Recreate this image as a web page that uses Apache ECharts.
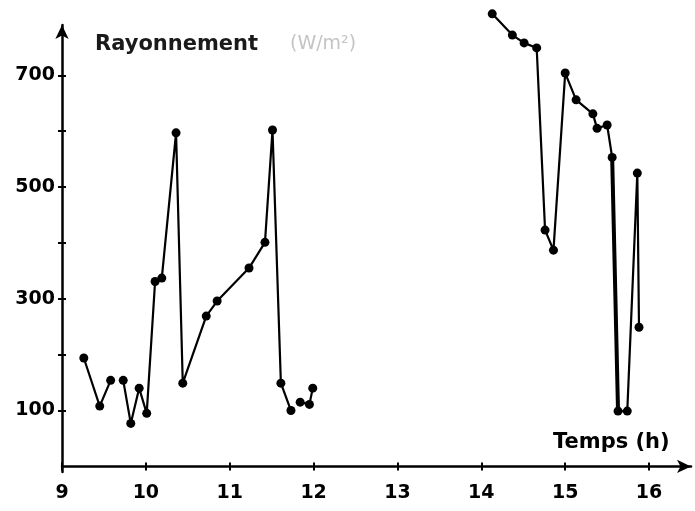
<!DOCTYPE html>
<html>
<head>
<meta charset="utf-8">
<script src="https://cdn.jsdelivr.net/npm/echarts@6/dist/echarts.min.js"></script>
<style>
  html, body { margin: 0; padding: 0; background: #fff; }
  #chart { width: 695px; height: 511px; }
</style>
</head>
<body>
<div id="chart"></div>
<script>
// Solar irradiance through the day (hour of day, W/m²)
const hours = [
  9.26, 9.45, 9.58, 9.73, 9.82, 9.92, 10.01, 10.11, 10.19, 10.36,
  10.44, 10.72, 10.85, 11.23, 11.42, 11.51, 11.61, 11.73, 11.84, 11.95,
  11.99, 14.13, 14.37, 14.51, 14.66, 14.76, 14.86, 15.00, 15.13, 15.33,
  15.38, 15.50, 15.56, 15.63, 15.74, 15.86, 15.88
];
const irradiance = [
  194, 108, 154, 154, 77, 140, 95, 331, 337, 597,
  149, 269, 296, 355, 401, 602, 149, 100, 115, 111,
  140, 810, 772, 758, 749, 423, 387, 704, 656, 631,
  605, 611, 553, 99, 99, 525, 249
];
// indices after which the recorded trace is interrupted
const breaksAfter = [2, 17, 20];
// segment drawn with a heavier stroke (start index, end index)
const heavySegment = [32, 33];

const xTicks = [9, 10, 11, 12, 13, 14, 15, 16];
const yTicks = [100, 200, 300, 400, 500, 600, 700];
const yLabels = [100, 300, 500, 700];

const traceData = [];
hours.forEach((h, i) => {
  traceData.push([h, irradiance[i]]);
  if (breaksAfter.includes(i)) traceData.push([h, '-']);
});
const heavyData = [];
for (let i = heavySegment[0]; i <= heavySegment[1]; i++) heavyData.push([hours[i], irradiance[i]]);

const FONT = 'DejaVu Sans';
const tickStyle = { color: '#000', width: 2 };
const labelStyle = { color: '#000', fontFamily: FONT, fontWeight: 'bold', fontSize: 19 };

const chart = echarts.init(document.getElementById('chart'));
chart.setOption({
  animation: false,
  backgroundColor: '#fff',
  grid: { left: 62, right: 4, top: 25, bottom: 39, containLabel: false },
  xAxis: [
    {
      type: 'value', min: 9, max: 16.5,
      splitLine: { show: false },
      axisLine: { lineStyle: { color: '#000', width: 2.5 }, symbol: ['none', 'arrow'], symbolSize: [10, 14] },
      axisTick: { customValues: xTicks, length: 4, lineStyle: tickStyle },
      axisLabel: Object.assign({ customValues: xTicks, margin: 12 }, labelStyle)
    },
    {
      // inner half of the cross-shaped ticks
      type: 'value', min: 9, max: 16.5, position: 'bottom',
      splitLine: { show: false }, axisLine: { show: false }, axisLabel: { show: false },
      axisTick: { customValues: xTicks, inside: true, length: 4, lineStyle: tickStyle }
    }
  ],
  yAxis: [
    {
      type: 'value', min: -10, max: 790,
      splitLine: { show: false },
      axisLine: { lineStyle: { color: '#000', width: 2.5 }, symbol: ['none', 'arrow'], symbolSize: [10, 14] },
      axisTick: { customValues: yTicks, length: 4, lineStyle: tickStyle },
      axisLabel: Object.assign({ customValues: yLabels, margin: 7 }, labelStyle)
    },
    {
      type: 'value', min: -10, max: 790, position: 'left',
      splitLine: { show: false }, axisLine: { show: false }, axisLabel: { show: false },
      axisTick: { customValues: yTicks, inside: true, length: 4, lineStyle: tickStyle }
    }
  ],
  graphic: [
    {
      type: 'text', left: 95, top: 34,
      style: { text: 'Rayonnement', fontFamily: FONT, fontWeight: 'bold', fontSize: 21, fill: '#1a1a1a' }
    },
    {
      type: 'text', left: 290, top: 35,
      style: { text: '(W/m²)', fontFamily: FONT, fontSize: 19, fill: '#c4c4c4' }
    },
    {
      type: 'text', left: 553, top: 432,
      style: { text: 'Temps (h)', fontFamily: FONT, fontWeight: 'bold', fontSize: 21, fill: '#000' }
    }
  ],
  series: [
    {
      type: 'line', data: traceData, clip: false, connectNulls: false,
      symbol: 'circle', symbolSize: 9, showAllSymbol: true,
      lineStyle: { color: '#000', width: 2.2 },
      itemStyle: { color: '#000' }
    },
    {
      type: 'line', data: heavyData, clip: false, symbol: 'none',
      lineStyle: { color: '#000', width: 4 }
    }
  ]
});
</script>
</body>
</html>
